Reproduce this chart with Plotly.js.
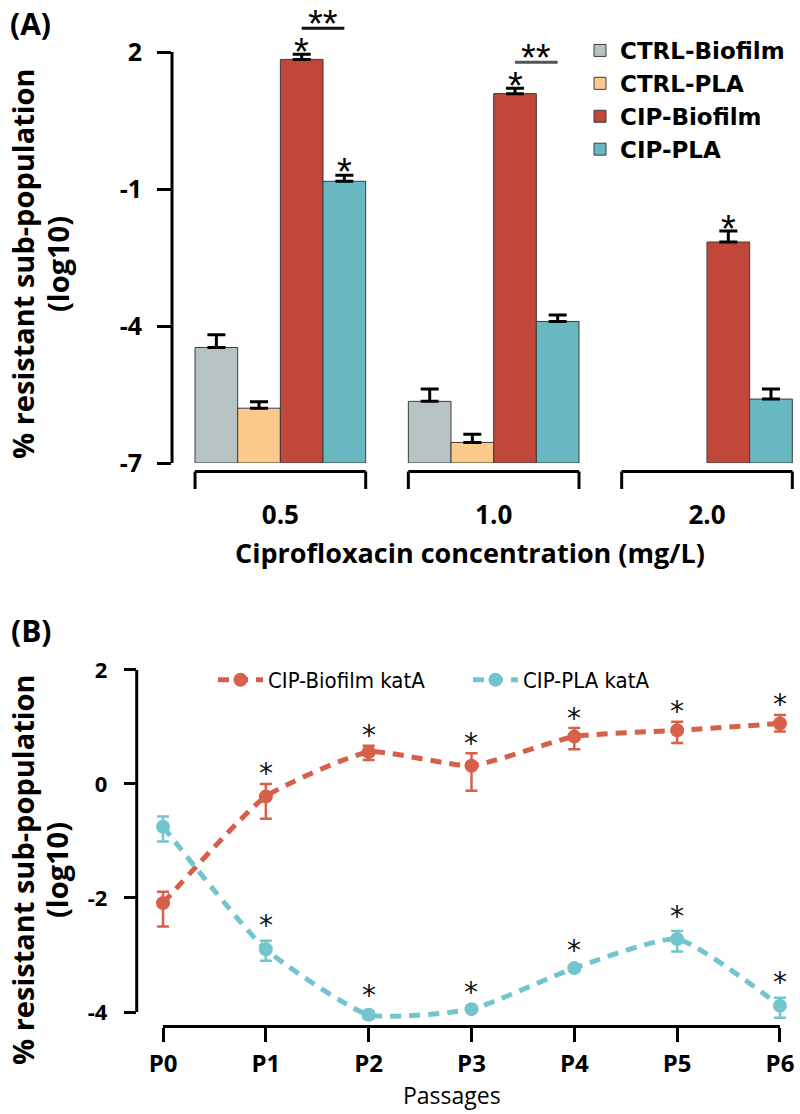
<!DOCTYPE html>
<html><head><meta charset="utf-8">
<script src="https://cdn.plot.ly/plotly-3.0.1.min.js"></script>
<style>html,body{margin:0;padding:0;background:#fff}#chart{width:800px;height:1114px}</style>
</head><body><div id="chart"></div>
<script>
// ---------- Panel A data ----------
const concentrations = ['0.5', '1.0', '2.0'];
const ctrlBiofilm    = [-4.47, -5.65, null];
const ctrlBiofilmErr = [0.28, 0.27, null];
const ctrlPla        = [-5.80, -6.55, null];
const ctrlPlaErr     = [0.14, 0.18, null];
const cipBiofilm     = [1.84, 1.09, -2.16];
const cipBiofilmErr  = [0.11, 0.12, 0.24];
const cipPla         = [-0.83, -3.90, -5.60];
const cipPlaErr      = [0.13, 0.14, 0.22];
const cipBiofilmSig  = [true, true, true];
const cipPlaSig      = [true, false, false];
const pairSig        = [true, true, false];   // "**" CIP-Biofilm vs CIP-PLA
const barBase = -7;
const yTicksA = [2, -1, -4, -7];

// ---------- Panel B data ----------
const passages        = ['P0', 'P1', 'P2', 'P3', 'P4', 'P5', 'P6'];
const biofilmKatA     = [-2.09, -0.22, 0.56, 0.32, 0.83, 0.94, 1.06];
const biofilmErrPlus  = [0.20, 0.22, 0.11, 0.22, 0.15, 0.15, 0.15];
const biofilmErrMinus = [0.41, 0.39, 0.14, 0.44, 0.22, 0.22, 0.14];
const plaKatA         = [-0.75, -2.90, -4.05, -3.95, -3.23, -2.72, -3.89];
const plaErrPlus      = [0.18, 0.15, 0.07, 0.03, 0.04, 0.14, 0.14];
const plaErrMinus     = [0.26, 0.20, 0.07, 0.03, 0.04, 0.22, 0.21];
const biofilmSig      = [false, true, true, true, true, true, true];
const plaSig          = [false, true, true, true, true, true, true];
const yTicksB = [2, 0, -2, -4];

// ---------- styles ----------
const W = 800, H = 1114;
const py = y => (H - y) / H;   // pixel row -> paper
const px = x => x / W;
const colA = {ctrlBio: '#b6c3c2', ctrlPla: '#fcc98c', cipBio: '#c1473a', cipPla: '#67b8c1'};
const colB = {bio: '#d6604a', pla: '#73c5cd'};
const BOLD = {family: 'Open Sans', weight: 'bold', color: '#000'};

function barTrace(name, vals, errs, color) {
  return {
    type: 'bar', name: name, x: concentrations,
    y: vals.map(v => v === null ? null : v - barBase), base: barBase,
    marker: {color: color, line: {color: '#3c3c3c', width: 1}},
    error_y: {type: 'data', symmetric: false, array: errs, arrayminus: errs.map(() => 0),
              color: '#000', thickness: 3, width: 9},
    xaxis: 'x', yaxis: 'y', legend: 'legend', cliponaxis: false, hoverinfo: 'skip'
  };
}
function lineTrace(name, vals, ep, em, color) {
  return {
    type: 'scatter', mode: 'lines+markers', name: name, x: passages, y: vals,
    line: {color: color, width: 5, dash: '11px,8px', shape: 'spline', smoothing: 0.5},
    marker: {color: color, size: 14},
    error_y: {type: 'data', symmetric: false, array: ep, arrayminus: em, color: color, thickness: 2.5, width: 6},
    xaxis: 'x2', yaxis: 'y2', legend: 'legend2', cliponaxis: false, hoverinfo: 'skip'
  };
}

const data = [
  barTrace('CTRL-Biofilm', ctrlBiofilm, ctrlBiofilmErr, colA.ctrlBio),
  barTrace('CTRL-PLA', ctrlPla, ctrlPlaErr, colA.ctrlPla),
  barTrace('CIP-Biofilm', cipBiofilm, cipBiofilmErr, colA.cipBio),
  barTrace('CIP-PLA', cipPla, cipPlaErr, colA.cipPla),
  lineTrace('CIP-Biofilm katA', biofilmKatA, biofilmErrPlus, biofilmErrMinus, colB.bio),
  lineTrace('CIP-PLA katA', plaKatA, plaErrPlus, plaErrMinus, colB.pla)
];

const shapes = [];
const annotations = [];

// Panel A axis line (2 .. -7)
shapes.push({type: 'line', xref: 'x domain', yref: 'y', x0: 0, x1: 0, y0: yTicksA[yTicksA.length - 1], y1: yTicksA[0], line: {color: '#000', width: 3}});
// Panel A group brackets
concentrations.forEach((c, i) => {
  const a = i - 0.4, b = i + 0.4, yt = py(471.5), yb = py(489);
  shapes.push({type: 'line', xref: 'x', yref: 'paper', x0: a, x1: b, y0: yt, y1: yt, line: {color: '#000', width: 3}});
  shapes.push({type: 'line', xref: 'x', yref: 'paper', x0: a, x1: a, y0: yt, y1: yb, line: {color: '#000', width: 3}});
  shapes.push({type: 'line', xref: 'x', yref: 'paper', x0: b, x1: b, y0: yt, y1: yb, line: {color: '#000', width: 3}});
});
// Panel A significance
const starFontA = {family: 'Liberation Sans', size: 38, color: '#000'};
concentrations.forEach((c, i) => {
  if (cipBiofilmSig[i]) annotations.push({xref: 'x', yref: 'y', x: i + 0.1, y: cipBiofilm[i] + cipBiofilmErr[i], text: '*', showarrow: false, yanchor: 'middle', yshift: 2, font: starFontA});
  if (cipPlaSig[i]) annotations.push({xref: 'x', yref: 'y', x: i + 0.3, y: cipPla[i] + cipPlaErr[i], text: '*', showarrow: false, yanchor: 'middle', yshift: 3, font: starFontA});
  if (pairSig[i]) {
    const yl = cipBiofilm[i] + cipBiofilmErr[i] + 0.57;
    shapes.push({type: 'line', xref: 'x', yref: 'y', x0: i + 0.1, x1: i + 0.3, y0: yl, y1: yl, line: {color: i === 0 ? '#111' : '#555', width: 3}});
    annotations.push({xref: 'x', yref: 'y', x: i + 0.2, y: yl, text: '**', showarrow: false, yanchor: 'middle', yshift: 4, font: starFontA});
  }
});

// Panel B axis lines
shapes.push({type: 'line', xref: 'x2 domain', yref: 'y2', x0: 0, x1: 0, y0: yTicksB[yTicksB.length - 1], y1: yTicksB[0], line: {color: '#000', width: 3}});
shapes.push({type: 'line', xref: 'x2', yref: 'y2 domain', x0: 0, x1: passages.length - 1, y0: 0, y1: 0, line: {color: '#000', width: 3}});
// Panel B significance
const starFontB = {family: 'DejaVu Sans', size: 28, color: '#111'};
passages.forEach((p, i) => {
  if (biofilmSig[i]) annotations.push({xref: 'x2', yref: 'y2', x: i, y: biofilmKatA[i] + biofilmErrPlus[i], text: '*', showarrow: false, yanchor: 'middle', yshift: 10, font: starFontB});
  if (plaSig[i]) annotations.push({xref: 'x2', yref: 'y2', x: i, y: plaKatA[i] + plaErrPlus[i], text: '*', showarrow: false, yanchor: 'middle', yshift: 15, font: starFontB});
});

// Titles / labels
const yTitleFont = Object.assign({}, BOLD, {size: 29});
annotations.push({xref: 'paper', yref: 'paper', x: px(30), y: py(23), text: '(A)', showarrow: false, xanchor: 'center', yanchor: 'middle', font: Object.assign({}, BOLD, {size: 30})});
annotations.push({xref: 'paper', yref: 'paper', x: px(31), y: py(630), text: '(B)', showarrow: false, xanchor: 'center', yanchor: 'middle', font: Object.assign({}, BOLD, {size: 30})});
annotations.push({xref: 'paper', yref: 'paper', x: px(23), y: py(264), text: '% resistant sub-population', textangle: -90, showarrow: false, xanchor: 'center', yanchor: 'middle', font: yTitleFont});
annotations.push({xref: 'paper', yref: 'paper', x: px(58), y: py(264), text: '(log10)', textangle: -90, showarrow: false, xanchor: 'center', yanchor: 'middle', font: yTitleFont});
annotations.push({xref: 'paper', yref: 'paper', x: px(22), y: py(870), text: '% resistant sub-population', textangle: -90, showarrow: false, xanchor: 'center', yanchor: 'middle', font: yTitleFont});
annotations.push({xref: 'paper', yref: 'paper', x: px(56), y: py(870), text: '(log10)', textangle: -90, showarrow: false, xanchor: 'center', yanchor: 'middle', font: yTitleFont});
annotations.push({xref: 'paper', yref: 'paper', x: px(470), y: py(552), text: 'Ciprofloxacin concentration (mg/L)', showarrow: false, xanchor: 'center', yanchor: 'middle', font: Object.assign({}, BOLD, {size: 27})});
annotations.push({xref: 'paper', yref: 'paper', x: px(452), y: py(1095), text: 'Passages', showarrow: false, xanchor: 'center', yanchor: 'middle', font: {family: 'Open Sans', size: 23, color: '#000'}});

const layout = {
  width: W, height: H, margin: {l: 0, r: 0, t: 0, b: 0},
  paper_bgcolor: '#fff', plot_bgcolor: 'rgba(0,0,0,0)',
  font: {family: 'Open Sans', color: '#000'},
  barmode: 'group', bargap: 0.2, bargroupgap: 0,
  showlegend: true,
  xaxis: {domain: [px(172), 1], anchor: 'y', type: 'category', range: [-0.508, 2.436],
          showgrid: false, zeroline: false, showline: false, ticks: '',
          tickfont: Object.assign({}, BOLD, {size: 26}), ticklabelstandoff: 34},
  yaxis: {domain: [py(463), py(11)], anchor: 'x', range: [barBase, 2.9],
          tickvals: yTicksA, ticktext: yTicksA.map(String), ticks: 'outside', ticklen: 14, tickwidth: 3, tickcolor: '#000',
          showgrid: false, zeroline: false, showline: false,
          tickfont: Object.assign({}, BOLD, {size: 25}), ticklabelstandoff: 10},
  xaxis2: {domain: [px(136.7), 1], anchor: 'y2', type: 'category', range: [-0.256, 6.195],
           showgrid: false, zeroline: false, showline: false,
           ticks: 'outside', ticklen: 14, tickwidth: 3, tickcolor: '#000',
           tickfont: Object.assign({}, BOLD, {size: 24}), ticklabelstandoff: 2},
  yaxis2: {domain: [py(1026.5), py(630)], anchor: 'x2', range: [-4.254, 2.70],
           tickvals: yTicksB, ticktext: yTicksB.map(String), ticks: 'outside', ticklen: 12, tickwidth: 3, tickcolor: '#000',
           showgrid: false, zeroline: false, showline: false,
           tickfont: Object.assign({}, BOLD, {size: 22}), ticklabelstandoff: 12},
  legend: {x: px(580), xanchor: 'left', y: py(29), yanchor: 'top', orientation: 'v', bgcolor: 'rgba(0,0,0,0)',
           font: {family: 'DejaVu Sans', weight: 'bold', size: 23, color: '#000'}, traceorder: 'normal'},
  legend2: {x: px(213), xanchor: 'left', y: py(680), yanchor: 'middle', orientation: 'h', bgcolor: 'rgba(0,0,0,0)',
            font: {family: 'Liberation Sans Narrow, DejaVu Sans Condensed', size: 22, color: '#000'},
            itemwidth: 45, entrywidth: 195, entrywidthmode: 'pixels'},
  shapes: shapes, annotations: annotations
};

Plotly.newPlot('chart', data, layout, {staticPlot: true, displayModeBar: false});
</script></body></html>
